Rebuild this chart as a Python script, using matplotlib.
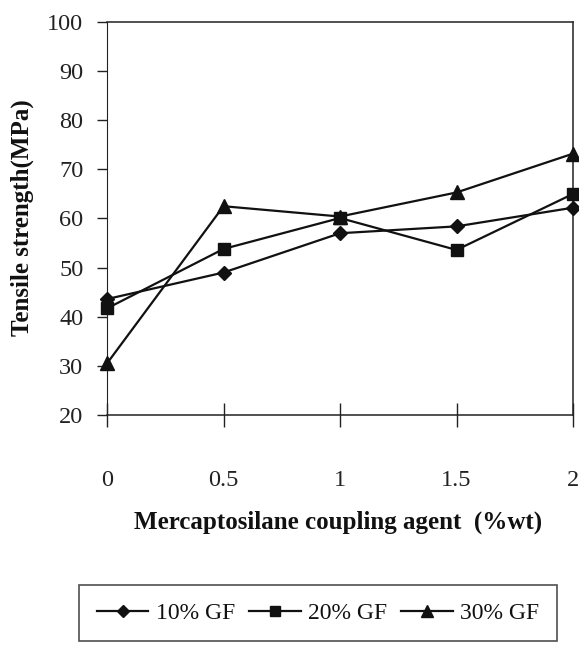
import matplotlib
matplotlib.use("Agg")
import matplotlib.pyplot as plt

x_vals = [0, 0.5, 1, 1.5, 2]
gf10 = [43.6, 49.0, 57.0, 58.4, 62.2]
gf20 = [41.7, 53.8, 60.1, 53.6, 65.0]
gf30 = [30.5, 62.5, 60.4, 65.3, 73.2]
series_labels = ["10% GF", "20% GF", "30% GF"]
x_ticks = [0, 0.5, 1, 1.5, 2]
x_tick_labels = ["0", "0.5", "1", "1.5", "2"]
y_ticks = [20, 30, 40, 50, 60, 70, 80, 90, 100]

plt.rcParams['font.family'] = ['Liberation Serif', 'DejaVu Serif']

fig = plt.figure(figsize=(5.79, 6.45), dpi=100)
ax = fig.add_axes([107/579, 1-415/645, (573-107)/579, (415-22)/645])

markers = ['D', 's', '^']
sizes = [7, 8, 9.5]
lines = []
for ys, m, ms, lab in zip([gf10, gf20, gf30], markers, sizes, series_labels):
    ln, = ax.plot(x_vals, ys, color='#111111', lw=1.6, marker=m, ms=ms,
                  mfc='#111111', mec='#111111', label=lab, clip_on=False, zorder=3)
    lines.append(ln)

ax.set_xlim(0, 2)
ax.set_ylim(20, 100)
ax.set_xticks(x_ticks)
ax.set_xticklabels(x_tick_labels)
ax.set_yticks(y_ticks)

for s in ax.spines.values():
    s.set_color('#222222')
    s.set_linewidth(1.1)
ax.spines['left'].set_linewidth(0.8)

ax.tick_params(axis='x', direction='inout', length=17, width=1.0, pad=31,
               labelsize=17.5, colors='#222222')
ax.tick_params(axis='y', direction='out', length=7, width=1.0, pad=10,
               labelsize=17.5, colors='#222222')

fig.text(22/579, 1-218/645, "Tensile strength(MPa)", rotation=90, ha='center',
         va='center', fontsize=18, fontweight='bold', color='#111111')
fig.text(338/579, 1-522/645, "Mercaptosilane coupling agent  (%wt)", ha='center',
         va='center', fontsize=18, fontweight='bold', color='#111111')

leg = fig.legend(handles=lines, loc='center', bbox_to_anchor=(318/579, 1-613/645),
                 ncol=3, frameon=True, fancybox=False, edgecolor='#222222',
                 fontsize=17, handlelength=2.2, handletextpad=0.3, columnspacing=0.6,
                 borderpad=0.75, markerscale=0.85)
leg.get_frame().set_linewidth(1.2)
for t in leg.get_texts():
    t.set_color('#111111')

fig.savefig("out.png", dpi=100)
